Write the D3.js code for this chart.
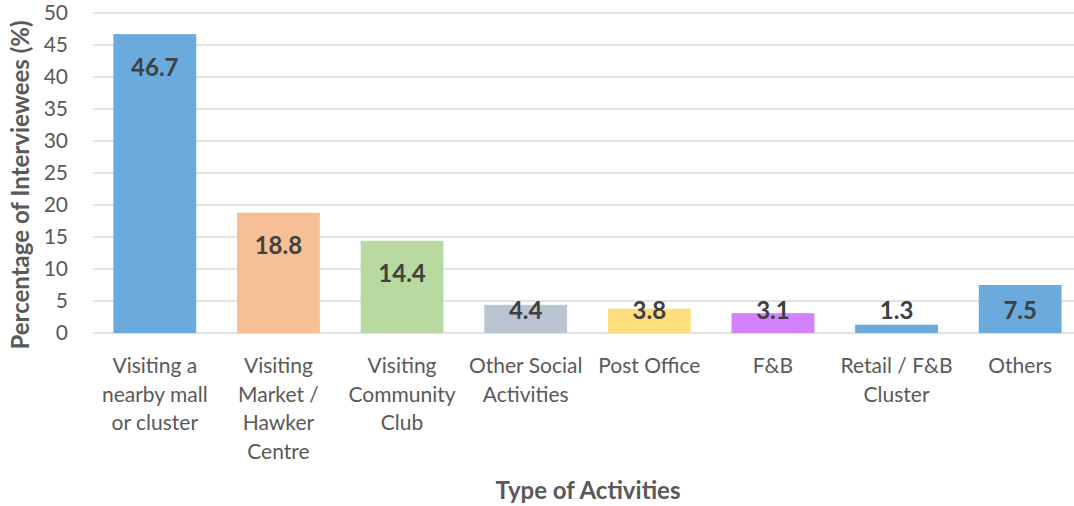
<!DOCTYPE html>
<html>
<head>
<meta charset="utf-8">
<script src="https://cdn.jsdelivr.net/npm/d3@7"></script>
<style>
  body { margin: 0; background: #fff; }
  svg text { font-family: Lato, "Open Sans", sans-serif; }
</style>
</head>
<body>
<svg id="chart" width="1074" height="506"></svg>
<script>
// categories, one line per entry
var categories = [
  ["Visiting a", "nearby mall", "or cluster"],
  ["Visiting", "Market /", "Hawker", "Centre"],
  ["Visiting", "Community", "Club"],
  ["Other Social", "Activities"],
  ["Post Office"],
  ["F&B"],
  ["Retail / F&B", "Cluster"],
  ["Others"]
];
var values = [46.7, 18.8, 14.4, 4.4, 3.8, 3.1, 1.3, 7.5];
var colors = ["#6aaadc", "#f6bf95", "#b8d9a0", "#b9c5d3", "#fedd7e", "#d580fc", "#6aaadc", "#6aaadc"];
var yTicks = [0, 5, 10, 15, 20, 25, 30, 35, 40, 45, 50];

var svg = d3.select("#chart");
var margin = { left: 93, right: 1082, top: 13, bottom: 333 };

var x = d3.scaleBand()
  .domain(d3.range(values.length))
  .range([margin.left, margin.right])
  .paddingInner(0.33)
  .paddingOuter(0.165);

var y = d3.scaleLinear()
  .domain([0, 50])
  .range([margin.bottom, margin.top]);

// gridlines
svg.append("g")
  .selectAll("line")
  .data(yTicks)
  .enter().append("line")
  .attr("x1", margin.left)
  .attr("x2", margin.right)
  .attr("y1", function(d) { return y(d); })
  .attr("y2", function(d) { return y(d); })
  .attr("stroke", "#d9d9d9")
  .attr("stroke-width", 1.5);

// y tick labels
var yAxis = svg.append("g")
  .attr("transform", "translate(" + (margin.left - 25) + ",0)")
  .call(d3.axisLeft(y).tickValues(yTicks).tickSize(0).tickPadding(0));
yAxis.select(".domain").remove();
yAxis.selectAll("text")
  .attr("fill", "#595959")
  .style("font-size", "21px");

// bars
svg.append("g")
  .selectAll("rect")
  .data(values)
  .enter().append("rect")
  .attr("x", function(d, i) { return x(i); })
  .attr("y", function(d) { return y(d); })
  .attr("width", x.bandwidth())
  .attr("height", function(d) { return y(0) - y(d); })
  .attr("fill", function(d, i) { return colors[i]; });

// value labels
svg.append("g")
  .selectAll("text")
  .data(values)
  .enter().append("text")
  .attr("x", function(d, i) { return x(i) + x.bandwidth() / 2; })
  .attr("y", function(d) { return Math.min(y(d) + 33, y(0) - 22); })
  .attr("dy", "0.35em")
  .attr("text-anchor", "middle")
  .attr("fill", "#404040")
  .style("font-size", "24px")
  .style("font-weight", "bold")
  .text(function(d) { return d.toFixed(1); });

// category labels
var catG = svg.append("g");
categories.forEach(function(lines, i) {
  var t = catG.append("text")
    .attr("x", x(i) + x.bandwidth() / 2)
    .attr("y", 373)
    .attr("text-anchor", "middle")
    .attr("fill", "#595959")
    .style("font-size", "21px");
  lines.forEach(function(line, j) {
    t.append("tspan")
      .attr("x", x(i) + x.bandwidth() / 2)
      .attr("y", 373 + j * 28.7)
      .text(line);
  });
});

// axis titles
svg.append("text")
  .attr("transform", "translate(29,185) rotate(-90)")
  .attr("text-anchor", "middle")
  .attr("fill", "#595959")
  .style("font-size", "24px")
  .style("font-weight", "bold")
  .text("Percentage of Interviewees (%)");

svg.append("text")
  .attr("x", 588)
  .attr("y", 499)
  .attr("text-anchor", "middle")
  .attr("fill", "#595959")
  .style("font-size", "24px")
  .style("font-weight", "bold")
  .text("Type of Activities");
</script>
</body>
</html>
